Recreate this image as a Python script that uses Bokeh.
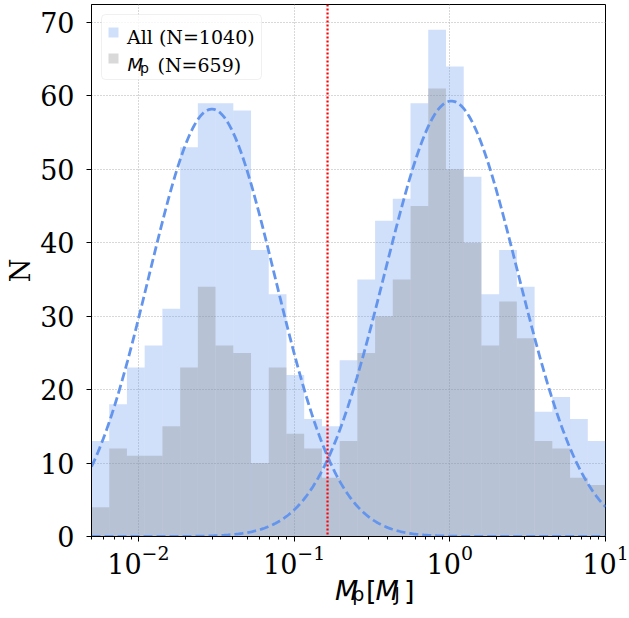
import numpy as np
from bokeh.plotting import figure
from bokeh.layouts import column
from bokeh.models import Range1d, Span, Label, BoxAnnotation, FixedTicker, LogTicker
from bokeh.embed import file_html
from bokeh.resources import INLINE

# ---------------- data ----------------
bin_lo, bin_hi, n_bins = 0.005, 10.0, 29
all_counts = [13, 18, 23, 26, 31, 53, 59, 59, 58, 39, 33, 22, 16, 15, 24,
              35, 43, 46, 59, 69, 64, 49, 33, 39, 34, 17, 19, 16, 13]
mp_counts = [4, 12, 11, 11, 15, 23, 34, 26, 25, 10, 23, 14, 12, 8, 13,
             25, 30, 35, 45, 61, 50, 40, 26, 32, 27, 13, 12, 8, 7]
n_all, n_mp = 1040, 659
split_mass = 0.164
# fitted log-normal components (log10 space)
g1_amp, g1_mu, g1_sigma = 58.2, -1.528, 0.406
g2_amp, g2_mu, g2_sigma = 59.3, 0.01, 0.427
y_ticks = [0, 10, 20, 30, 40, 50, 60, 70]
y_max = 72.45

edges = np.logspace(np.log10(bin_lo), np.log10(bin_hi), n_bins + 1)
xs = np.logspace(np.log10(bin_lo), np.log10(bin_hi), 400)
lx = np.log10(xs)
curve1 = g1_amp * np.exp(-(lx - g1_mu) ** 2 / (2 * g1_sigma ** 2))
curve2 = g2_amp * np.exp(-(lx - g2_mu) ** 2 / (2 * g2_sigma ** 2))

W = 629
FH = 532
BL, BR, BT, BB = 91, 24, 4, 52
PH = BT + FH + BB
QH = 44

# ---------------- figure ----------------
p = figure(width=W, height=PH, x_axis_type="log", title=None,
           x_range=Range1d(bin_lo, bin_hi), y_range=Range1d(0, y_max),
           output_backend="svg", toolbar_location=None,
           min_border_left=BL, min_border_right=BR,
           min_border_top=BT, min_border_bottom=BB)

p.background_fill_color = "white"
p.border_fill_color = "white"
p.outline_line_color = "black"
p.outline_line_width = 1
p.outline_line_alpha = 1

BLUE = "#6495ed"
p.quad(left=edges[:-1], right=edges[1:], bottom=0, top=all_counts,
       fill_color=BLUE, fill_alpha=0.3, line_color=None)
p.quad(left=edges[:-1], right=edges[1:], bottom=0, top=mp_counts,
       fill_color="#808080", fill_alpha=0.3, line_color=None)

p.line(xs, curve1, line_color=BLUE, line_width=2.8, line_dash="9 4")
p.line(xs, curve2, line_color=BLUE, line_width=2.8, line_dash="9 4")

p.add_layout(Span(location=split_mass, dimension="height", line_color="red",
                  line_width=2.2, line_dash="2 2"))

# axes
for ax in (p.xaxis, p.yaxis):
    ax.axis_line_color = "black"
    ax.major_tick_line_color = "black"
    ax.major_tick_out = 5
    ax.major_tick_in = 0
    ax.minor_tick_out = 3
    ax.minor_tick_in = 0
    ax.major_label_text_font = "DejaVu Serif"
    ax.major_label_text_font_size = "27px"
    ax.major_label_text_color = "black"

p.xaxis.ticker = LogTicker(num_minor_ticks=10)
p.xaxis.major_label_standoff = 3
p.yaxis.ticker = FixedTicker(ticks=y_ticks)
p.yaxis.minor_tick_line_color = None
p.yaxis.major_label_standoff = 12
p.yaxis.axis_label = "N"
p.yaxis.axis_label_text_font = "DejaVu Serif"
p.yaxis.axis_label_text_font_size = "27px"
p.yaxis.axis_label_text_font_style = "normal"
p.yaxis.axis_label_text_color = "black"
p.yaxis.axis_label_standoff = 1

for g in (p.xgrid, p.ygrid):
    g.grid_line_color = "#b0b0b0"
    g.grid_line_dash = "1 2"
    g.grid_line_width = 1


def lab(fig, x, y, text, size, font="DejaVu Sans", style="normal", units="screen"):
    fig.add_layout(Label(x=x, y=y, x_units=units, y_units=units, text=text,
                         text_font=font, text_font_size=size, text_font_style=style,
                         text_baseline="alphabetic", text_align="left",
                         text_color="black"))


def sbox(left, right, top, bottom, **kw):
    p.add_layout(BoxAnnotation(left=left, right=right, top=top, bottom=bottom,
                               left_units="screen", right_units="screen",
                               top_units="screen", bottom_units="screen", **kw))


# legend (screen units, relative to frame bottom-left)
sbox(10, 170, 522, 457, fill_color="white", fill_alpha=0.8,
     line_color="#cccccc", line_width=1, border_radius=4)
sbox(17, 27, 509, 499, fill_color=BLUE, fill_alpha=0.3, line_color=None)
sbox(17, 27, 483, 473, fill_color="#808080", fill_alpha=0.3, line_color=None)
lab(p, 35.5, 499.3, f"All (N={n_all})", "19px", font="DejaVu Serif")
lab(p, 36, 472, "M", "18px", style="italic")
lab(p, 48.5, 468.5, "p", "14px")
lab(p, 66, 472, f"(N={n_mp})", "19px", font="DejaVu Serif")

# x-axis label strip, transparent, pulled up over the empty bottom border
q = figure(width=W, height=QH, title=None,
           x_range=Range1d(0, W), y_range=Range1d(0, QH),
           output_backend="svg", toolbar_location=None,
           x_axis_location=None, y_axis_location=None, min_border=0,
           margin=(-26, 0, 0, 0))
q.outline_line_color = None
q.xgrid.visible = False
q.ygrid.visible = False
q.background_fill_color = None
q.border_fill_color = None

lab(q, 298, 16, "M", "27px", style="italic", units="data")
lab(q, 319, 12.5, "p", "19px", units="data")
lab(q, 336, 16, "[", "27px", units="data")
lab(q, 347.5, 16, "M", "27px", style="italic", units="data")
lab(q, 370.5, 12.5, "J", "19px", units="data")
lab(q, 382.5, 16, "]", "27px", units="data")

layout = column(p, q, spacing=0)
open("out.html", "w").write(file_html(layout, INLINE))
